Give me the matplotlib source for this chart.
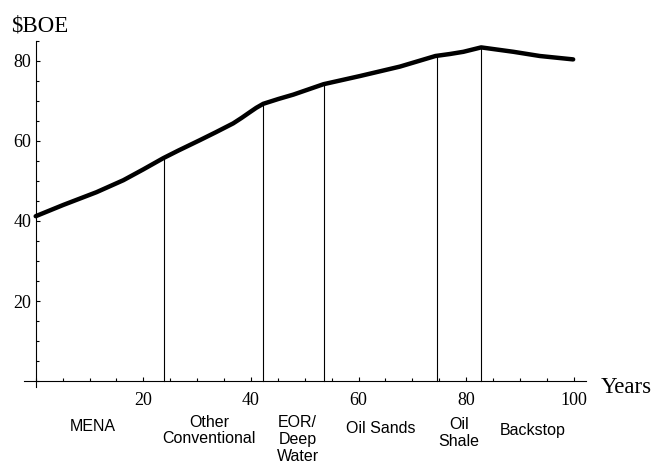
import numpy as np
import matplotlib
matplotlib.use("Agg")
import matplotlib.pyplot as plt
from matplotlib.ticker import MultipleLocator
import matplotlib.transforms as mtransforms

# ---- data ----
years = [0, 5.1, 11.3, 16.3, 20.0, 23.7, 26.5, 30.5, 33.5, 36.7, 38.3, 39.8, 41.0, 42.3,
         45.1, 47.9, 53.5, 60.3, 67.7, 74.3, 77.0, 79.5, 82.8, 88.8, 93.7, 99.9]
price = [41.2, 44.0, 47.2, 50.2, 52.9, 55.7, 57.6, 60.2, 62.2, 64.4, 65.8, 67.2, 68.3, 69.3,
         70.5, 71.6, 74.2, 76.25, 78.6, 81.25, 81.75, 82.3, 83.4, 82.3, 81.25, 80.4]
boundaries = [23.9, 42.3, 53.5, 74.5, 82.8]
regions = ["MENA", "Other\nConventional", "EOR/\nDeep\nWater", "Oil Sands", "Oil\nShale", "Backstop"]
region_x = [10.6, 32.2, 48.7, 64.1, 78.6, 92.3]
region_y_px = [426.5, 430.5, 439.5, 428.3, 432.8, 430.0]
xticks = [20, 40, 60, 80, 100]
yticks = [20, 40, 60, 80]

W, H = 653, 463
fig = plt.figure(figsize=(W / 100, H / 100), dpi=100)

# axes placement (pixels): x=0 at 35.7, 5.38 px/unit ; y=0 at 381, 4 px/unit
xlim = (-3, 103)
ylim = (-2, 86)
xpx0 = 35.7 - 3 * 5.38
ypx_bottom = 381 + 2 * 4
ax = fig.add_axes([xpx0 / W, (H - ypx_bottom) / H, 106 * 5.38 / W, 88 * 4 / H])
ax.set_xlim(*xlim)
ax.set_ylim(*ylim)

for s in ["top", "right"]:
    ax.spines[s].set_visible(False)
ax.spines["left"].set_position(("data", 0))
ax.spines["bottom"].set_position(("data", 0))
ax.spines["left"].set_bounds(-1.6, 85)
ax.spines["bottom"].set_bounds(-2.2, 102.3)
for s in ["left", "bottom"]:
    ax.spines[s].set_linewidth(0.8)

ax.set_xticks(xticks)
ax.set_yticks(yticks)
ax.xaxis.set_minor_locator(MultipleLocator(5))
ax.yaxis.set_minor_locator(MultipleLocator(5))
serif = ["Liberation Serif", "DejaVu Serif"]
ax.tick_params(which="major", direction="in", length=3.2, width=0.8)
ax.tick_params(which="minor", direction="in", length=2.1, width=0.8)
ax.tick_params(axis="x", which="major", pad=8)
ax.tick_params(axis="y", which="major", pad=3)
for lab in ax.get_xticklabels() + ax.get_yticklabels():
    lab.set_fontfamily(serif)
    lab.set_fontsize(13)

# curve
ax.plot(years, price, color="black", lw=3.2, solid_capstyle="round", solid_joinstyle="round", zorder=3)

# boundary lines
for b in boundaries:
    top = np.interp(b, years, price)
    ax.plot([b, b], [0, top], color="black", lw=0.8, zorder=2)

# region labels
trans = mtransforms.blended_transform_factory(ax.transData, fig.transFigure)
for name, rx, ry in zip(regions, region_x, region_y_px):
    ax.text(rx, 1 - ry / H, name, transform=trans, ha="center", va="center",
            fontsize=11.5, family=["Liberation Sans", "DejaVu Sans"], linespacing=1.15)

# axis labels
fig.text(601 / W, 1 - 393 / H, "Years", ha="left", va="baseline", fontsize=16.5, family=serif)
fig.text(11 / W, 1 - 31.5 / H, "$BOE", ha="left", va="baseline", fontsize=16.5, family=serif)

fig.savefig("out.png", dpi=100)
